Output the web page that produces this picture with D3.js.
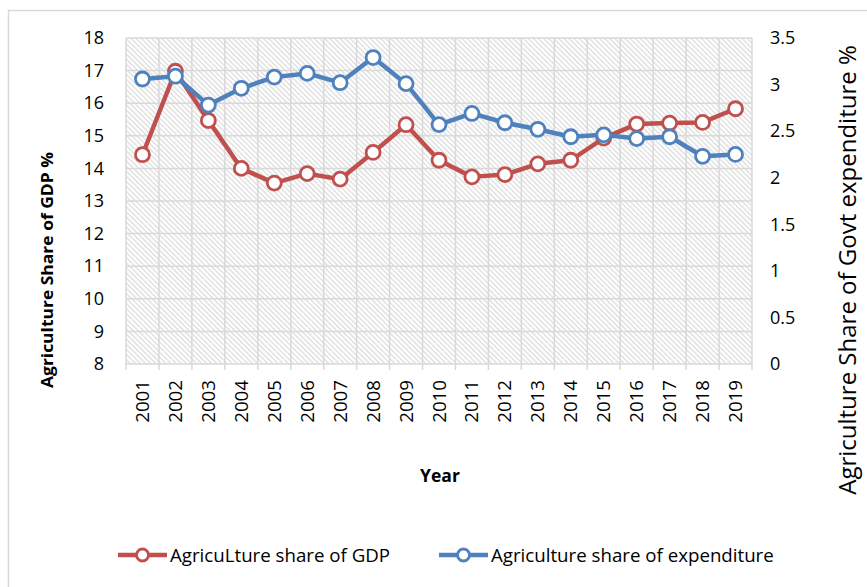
<!DOCTYPE html>
<html>
<head>
<meta charset="utf-8">
<script src="https://cdn.jsdelivr.net/npm/d3@7"></script>
<style>
  body { margin: 0; background: #fff; }
  text { font-family: "Open Sans", sans-serif; fill: #000; }
</style>
</head>
<body>
<svg class="svg-main" width="867" height="587"></svg>
<script>
const years = ["2001","2002","2003","2004","2005","2006","2007","2008","2009","2010",
  "2011","2012","2013","2014","2015","2016","2017","2018","2019"];
const gdpShare = [14.42, 16.98, 15.47, 14.0, 13.55, 13.84, 13.67, 14.49, 15.34, 14.25,
  13.74, 13.81, 14.14, 14.25, 14.93, 15.36, 15.39, 15.41, 15.83];
const expShare = [3.06, 3.09, 2.78, 2.96, 3.08, 3.12, 3.02, 3.29, 3.01, 2.57,
  2.69, 2.59, 2.52, 2.44, 2.46, 2.42, 2.44, 2.23, 2.25];
const leftTicks = [8, 9, 10, 11, 12, 13, 14, 15, 16, 17, 18];
const rightTicks = [0, 0.5, 1, 1.5, 2, 2.5, 3, 3.5];
const seriesNames = ["AgricuLture share of GDP", "Agriculture share of expenditure"];
const colors = ["#c0504d", "#4f81bd"];

const svg = d3.select(".svg-main");
const plot = { left: 126, right: 752, top: 38, bottom: 364 };

const x = d3.scaleBand().domain(years).range([plot.left, plot.right]);
const yL = d3.scaleLinear().domain([8, 18]).range([plot.bottom, plot.top]);
const yR = d3.scaleLinear().domain([0, 3.5]).range([plot.bottom, plot.top]);

// outer chart border
svg.append("rect")
  .attr("x", 8.5).attr("y", 10.5)
  .attr("width", 900).attr("height", 600)
  .attr("fill", "none")
  .attr("stroke", "#d9d9d9")
  .attr("stroke-width", 1.5);

// hatch pattern
const defs = svg.append("defs");
defs.append("pattern")
    .attr("id", "hatch")
    .attr("patternUnits", "userSpaceOnUse")
    .attr("width", 3.6).attr("height", 3.6)
    .attr("patternTransform", "rotate(-45)")
  .append("rect")
    .attr("x", 0).attr("y", 0)
    .attr("width", 1.3).attr("height", 3.6)
    .attr("fill", "#dcdcdc");

svg.append("rect")
  .attr("x", plot.left).attr("y", plot.top)
  .attr("width", plot.right - plot.left)
  .attr("height", plot.bottom - plot.top)
  .attr("fill", "url(#hatch)");

// grid
const grid = svg.append("g")
  .attr("stroke", "#d9d9d9")
  .attr("stroke-width", 1.5);

grid.selectAll("line.h")
  .data(leftTicks)
  .enter().append("line")
    .attr("x1", plot.left).attr("x2", plot.right)
    .attr("y1", d => yL(d)).attr("y2", d => yL(d));

const bounds = years.map(d => x(d)).concat([plot.right]);
grid.selectAll("line.v")
  .data(bounds)
  .enter().append("line")
    .attr("x1", d => d).attr("x2", d => d)
    .attr("y1", plot.top).attr("y2", plot.bottom + 6);

// left axis
svg.append("g")
  .attr("transform", `translate(${plot.left - 22},0)`)
  .call(d3.axisLeft(yL).tickValues(leftTicks).tickSize(0).tickPadding(0))
  .call(g => g.select(".domain").remove())
  .selectAll("text")
    .style("font-family", "'Open Sans', sans-serif")
    .style("font-size", "18px");

// right axis
svg.append("g")
  .attr("transform", `translate(${plot.right + 18},0)`)
  .call(d3.axisRight(yR).tickValues(rightTicks).tickSize(0).tickPadding(0)
    .tickFormat(d => String(d)))
  .call(g => g.select(".domain").remove())
  .selectAll("text")
    .style("font-family", "'Open Sans', sans-serif")
    .style("font-size", "18px");

// x labels
svg.append("g")
  .selectAll("text")
  .data(years)
  .enter().append("text")
    .attr("transform", d => `translate(${x(d) + x.bandwidth() / 2},380) rotate(-90)`)
    .attr("text-anchor", "end")
    .attr("dy", "0.35em")
    .style("font-size", "18.7px")
    .text(d => d);

// axis titles
svg.append("text")
  .attr("transform", "translate(53,270) rotate(-90)")
  .attr("text-anchor", "middle")
  .attr("textLength", 236)
  .attr("lengthAdjust", "spacingAndGlyphs")
  .style("font-size", "16.5px")
  .style("font-weight", "bold")
  .text("Agriculture Share of GDP %");

svg.append("text")
  .attr("transform", "translate(856,270) rotate(-90)")
  .attr("text-anchor", "middle")
  .style("font-size", "24px")
  .text("Agriculture Share of Govt expenditure %");

svg.append("text")
  .attr("x", 440).attr("y", 482)
  .attr("text-anchor", "middle")
  .style("font-size", "17.5px")
  .style("font-weight", "bold")
  .text("Year");

// series
const line = (scale) => d3.line()
  .x((d, i) => x(years[i]) + x.bandwidth() / 2)
  .y(d => scale(d));

const series = [
  { values: gdpShare, scale: yL, color: colors[0] },
  { values: expShare, scale: yR, color: colors[1] }
];

series.forEach(s => {
  const g = svg.append("g");
  g.append("path")
    .datum(s.values)
    .attr("fill", "none")
    .attr("stroke", s.color)
    .attr("stroke-width", 4.5)
    .attr("stroke-linejoin", "round")
    .attr("d", line(s.scale));
  g.selectAll("circle")
    .data(s.values)
    .enter().append("circle")
      .attr("cx", (d, i) => x(years[i]) + x.bandwidth() / 2)
      .attr("cy", d => s.scale(d))
      .attr("r", 7)
      .attr("fill", "#fff")
      .attr("stroke", s.color)
      .attr("stroke-width", 2.8);
});

// legend
const legendX = [118, 439];
const legend = svg.append("g")
  .selectAll("g")
  .data(seriesNames)
  .enter().append("g")
    .attr("transform", (d, i) => `translate(${legendX[i]},555)`);

legend.append("line")
  .attr("x1", 0).attr("x2", 49)
  .attr("stroke", (d, i) => colors[i])
  .attr("stroke-width", 4.5);
legend.append("circle")
  .attr("cx", 24.5).attr("r", 6)
  .attr("fill", "#fff")
  .attr("stroke", (d, i) => colors[i])
  .attr("stroke-width", 2.8);
legend.append("text")
  .attr("x", 52)
  .attr("dy", "0.35em")
  .style("font-size", "18.7px")
  .text(d => d);
</script>
</body>
</html>
